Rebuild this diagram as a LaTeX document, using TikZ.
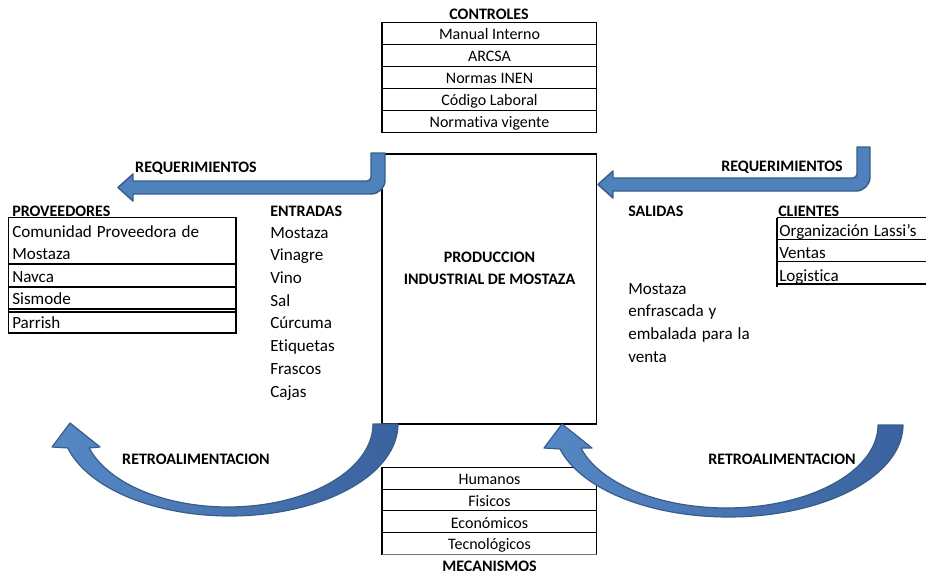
\documentclass[tikz,border=0pt]{standalone}
\usepackage{fontspec}
\setmainfont{Carlito}[Ligatures=NoCommon]
\newfontfamily\listfont{Carlito}[Ligatures=NoCommon, WordSpace=1.3]
\definecolor{arrowfill}{RGB}{79,129,189}
\definecolor{arrowlight}{RGB}{86,136,198}
\definecolor{arrowdark}{RGB}{58,98,158}
\definecolor{arrowline}{RGB}{56,93,138}
\begin{document}
\begin{tikzpicture}[x=0.75pt,y=-0.75pt,
  txt/.style={inner sep=0pt, yshift=-1.5pt, font=\fontsize{12}{14}\selectfont},
  lst/.style={inner sep=0pt, yshift=-1.5pt, font=\listfont\fontsize{12.8}{14}\selectfont},
  hdr/.style={inner sep=0pt, yshift=-1.5pt, font=\fontsize{12}{14}\selectfont\bfseries},
  rule/.style={line width=1.1pt, black},
  thinrule/.style={line width=0.5pt, black!55},
  bentarrow/.style={fill=arrowfill, draw=arrowline, line width=1.1pt, line join=round},
  curvedarrow/.style={left color=arrowlight, right color=arrowdark, draw=arrowline, line width=0.9pt, line join=round}
]
\useasboundingbox (0,0) rectangle (926,576);

% ---------- CONTROLES table ----------
\node[hdr, anchor=mid] (controles) at (489,14) {CONTROLES};
\draw[rule] (382,22.7) rectangle (596.7,132.3);
\foreach \yy in {44.3,66.3,88.3,110.3} \draw[rule] (382,\yy) -- (596.7,\yy);
\foreach \t [count=\i] in {Manual Interno,ARCSA,Normas INEN,Código Laboral,Normativa vigente}
  \node[txt, anchor=mid] (ctl\i) at (489.5,{34.5+22*(\i-1)}) {\t};

% ---------- process box ----------
\draw[rule] (382,154) rectangle (596.7,424);
\node[hdr, anchor=mid, align=center, font=\fontsize{12}{16.5}\selectfont\bfseries] (proc) at (489.5,279) {PRODUCCION\\INDUSTRIAL DE MOSTAZA};

% ---------- MECANISMOS table ----------
\draw[rule] (596.7,554.7) -- (596.7,467.7) -- (382,467.7) -- (382,554.7);
\foreach \yy in {489.3,510.7,532.3} \draw[rule] (382,\yy) -- (596.7,\yy);
\draw[thinrule] (382,554.7) -- (596.7,554.7);
\foreach \t [count=\i] in {Humanos,Fisicos,Económicos,Tecnológicos}
  \node[txt, anchor=mid] (mec\i) at (489.5,{479.5+21.7*(\i-1)}) {\t};
\node[hdr, anchor=mid] (mecanismos) at (489.5,566) {MECANISMOS};

% ---------- PROVEEDORES table ----------
\node[hdr, anchor=mid west] (proveedores) at (12,211) {PROVEEDORES};
\draw[rule] (8.5,217.7) rectangle (236,333);
\foreach \yy in {264,287,309,312} \draw[rule] (8.5,\yy) -- (236,\yy);
\node[lst, anchor=mid west] (prov1a) at (12,232) {Comunidad Proveedora de};
\node[lst, anchor=mid west] (prov1b) at (12,254) {Mostaza};
\node[lst, anchor=mid west] (prov2) at (12,277) {Navca};
\node[lst, anchor=mid west] (prov3) at (12,299) {Sismode};
\node[lst, anchor=mid west] (prov4) at (12,323) {Parrish};

% ---------- ENTRADAS list ----------
\node[hdr, anchor=mid west] (entradas) at (270,211) {ENTRADAS};
\foreach \t [count=\i] in {Mostaza,Vinagre,Vino,Sal,Cúrcuma,Etiquetas,Frascos,Cajas}
  \node[lst, anchor=mid west] (ent\i) at (270,{233+22.7*(\i-1)}) {\t};

% ---------- SALIDAS list ----------
\node[hdr, anchor=mid west] (salidas) at (628,211) {SALIDAS};
\foreach \t [count=\i] in {Mostaza,enfrascada y,embalada para la,venta}
  \node[lst, anchor=mid west] (sal\i) at (628,{289+22.7*(\i-1)}) {\t};

% ---------- CLIENTES table ----------
\node[hdr, anchor=mid west] (clientes) at (778,211) {CLIENTES};
\draw[rule] (777,217.7) -- (777,287);
\foreach \yy in {217.7,239.7,261.7,284} \draw[rule] (777,\yy) -- (926,\yy);
\node[lst, anchor=mid west] (cli1) at (779,231) {Organización Lassi’s};
\node[lst, anchor=mid west] (cli2) at (779,253) {Ventas};
\node[lst, anchor=mid west] (cli3) at (779,276) {Logistica};

% ---------- requirement arrows (bent) ----------
\path[bentarrow] (371,153) -- (385,153) -- (385,180)
  .. controls (385,187.7) and (378.7,194) .. (371,194)
  -- (133,194) -- (133,201) -- (118,187.5) -- (133,174) -- (133,181)
  -- (367,181) .. controls (369.2,181) and (371,179.2) .. (371,177) -- cycle;
\node[hdr, anchor=mid] (reqL) at (196,167) {REQUERIMIENTOS};

\path[bentarrow] (857,147) -- (870,147) -- (870,177)
  .. controls (870,184.7) and (863.7,191) .. (856,191)
  -- (613,191) -- (613,198) -- (598,184.5) -- (613,171) -- (613,178)
  -- (853,178) .. controls (855.2,178) and (857,176.2) .. (857,174) -- cycle;
\node[hdr, anchor=mid] (reqR) at (782,166) {REQUERIMIENTOS};

% ---------- feedback arrows (curved) ----------
\path[curvedarrow] (70,423) -- (100,447) -- (89.2,448)
  -- plot[domain=163.2:0, samples=70, variable=\t] ({228+145*cos(\t)},{424+83*sin(\t)})
  -- (398,424)
  -- plot[domain=0:164.9, samples=70, variable=\t] ({230+168*cos(\t)},{424+92*sin(\t)})
  -- (52,447) -- cycle;
\node[hdr, anchor=mid] (retroL) at (196,459) {RETROALIMENTACION};

\path[curvedarrow] (562,424) -- (592,448) -- (581.5,448)
  -- plot[domain=163.2:0, samples=70, variable=\t] ({726.5+151.5*cos(\t)},{425+83*sin(\t)})
  -- (903,425)
  -- plot[domain=0:164.9, samples=70, variable=\t] ({728.5+174.5*cos(\t)},{425+92*sin(\t)})
  -- (544,448) -- cycle;
\node[hdr, anchor=mid] (retroR) at (782,459) {RETROALIMENTACION};
\end{tikzpicture}
\end{document}
